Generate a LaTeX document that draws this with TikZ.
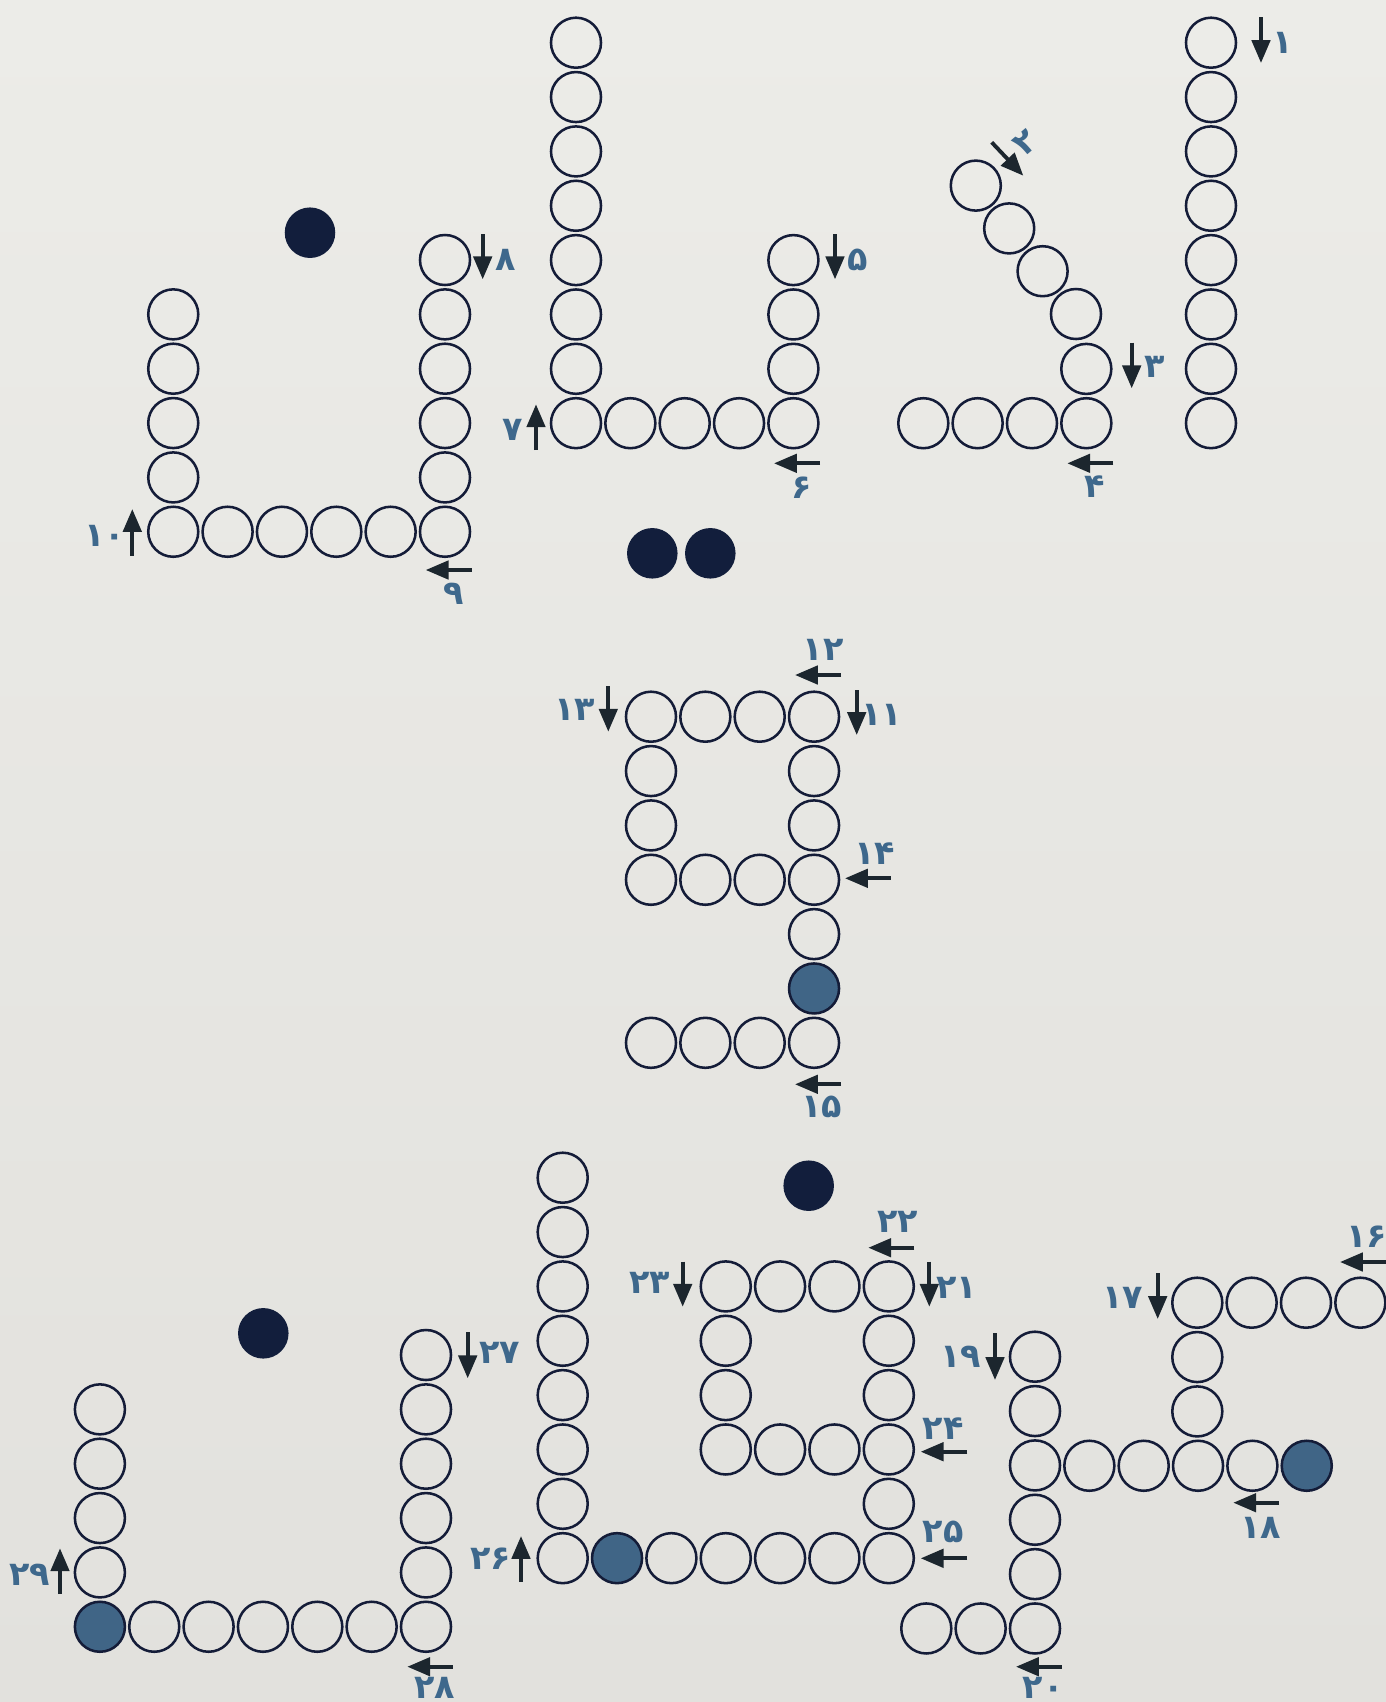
\documentclass[tikz,border=0pt]{standalone}
\usepackage{fontspec}
\usetikzlibrary{arrows.meta}
\newfontfamily\numfont[Script=Arabic]{DejaVu Sans}
\definecolor{ringc}{RGB}{20,28,56}
\definecolor{dotc}{RGB}{18,30,60}
\definecolor{bluec}{RGB}{64,101,134}
\definecolor{numc}{RGB}{62,104,140}
\definecolor{arrowc}{RGB}{28,38,46}
\definecolor{bgtop}{RGB}{236,236,232}
\definecolor{bgbot}{RGB}{226,225,221}

\begin{document}
\begin{tikzpicture}[x=0.01cm,y=-0.01cm,
  ring/.style={circle,draw=ringc,line width=0.72pt,minimum size=0.5cm,inner sep=0pt},
  bluering/.style={ring,fill=bluec},
  bigdot/.style={circle,fill=dotc,minimum size=0.505cm,inner sep=0pt},
  hint/.style={draw=arrowc,line width=1.1pt,-{Triangle[length=6.5pt,width=5.2pt]}},
  num/.style={text=numc,inner sep=0pt,font=\numfont\bfseries\fontsize{9.5}{11}\selectfont}]

% Background
\useasboundingbox (0,0) rectangle (1386,1702);
\shade[top color=bgtop,bottom color=bgbot] (0,0) rectangle (1386,1702);

% Alif
\foreach \i in {0,...,7}
  \node[ring] (alif\i) at (1211,{42.7+54.35*\i}) {};

% Diagonal letter
\foreach \i in {0,...,3}
  \node[ring] (kb\i) at ({923.3+54.35*\i},423.2) {};
\node[ring] (kc) at (1086.3,368.9) {};
\foreach \i in {0,...,3}
  \node[ring] (kd\i) at ({1076-33.4*\i},{314-42.8*\i}) {};

% Taa
\foreach \i in {0,...,7}
  \node[ring] (taa\i) at (576,{42.7+54.35*\i}) {};
\foreach \i in {1,...,4}
  \node[ring] (tb\i) at ({576+54.35*\i},423.2) {};
\foreach \i in {4,...,6}
  \node[ring] (tr\i) at (793.4,{42.7+54.35*\i}) {};

% Noon (top)
\foreach \i in {0,...,4}
  \node[ring] (nr\i) at (445,{260+54.35*\i}) {};
\foreach \i in {0,...,5}
  \node[ring] (nb\i) at ({173.25+54.35*\i},531.75) {};
\foreach \i in {0,...,3}
  \node[ring] (nl\i) at (173.25,{314.35+54.35*\i}) {};
\node[bigdot] (ndot) at (310,232.7) {};

% Two dots
\node[bigdot] (qdot1) at (652.3,553.3) {};
\node[bigdot] (qdot2) at (710.3,553.3) {};

% Qaf
\foreach \i in {0,...,3}
  \node[ring] (qt\i) at ({651+54.35*\i},716.7) {};
\foreach \i in {1,2}
  \node[ring] (ql\i) at (651,{716.7+54.35*\i}) {};
\foreach \i in {0,...,3}
  \node[ring] (qm\i) at ({651+54.35*\i},879.75) {};
\foreach \i in {1,2,4,6}
  \node[ring] (qr\i) at (814.05,{716.7+54.35*\i}) {};
\node[bluering] (qr5) at (814.05,988.45) {};
\foreach \i in {0,...,2}
  \node[ring] (qb\i) at ({651+54.35*\i},1042.8) {};

% Kaf
\foreach \i in {0,...,3}
  \node[ring] (kt\i) at ({1197.3+54.35*\i},1302.7) {};
\foreach \i in {1,2}
  \node[ring] (kv\i) at (1197.3,{1302.7+54.35*\i}) {};
\foreach \i in {1,...,4}
  \node[ring] (km\i) at ({1035+54.35*\i},1465.75) {};
\node[bluering] (km5) at (1306.75,1465.75) {};
\foreach \i in {0,...,5}
  \node[ring] (kl\i) at (1035,{1356.7+54.35*\i}) {};
\foreach \i in {0,1}
  \node[ring] (kf\i) at ({926.3+54.35*\i},1628.45) {};

% Zaa
\foreach \i in {0,...,7}
  \node[ring] (za\i) at (562.7,{1177.7+54.35*\i}) {};
\node[bluering] (zb1) at (617.05,1558.15) {};
\foreach \i in {2,...,6}
  \node[ring] (zb\i) at ({562.7+54.35*\i},1558.15) {};
\foreach \i in {1,...,5}
  \node[ring] (zr\i) at (888.8,{1558.15-54.35*\i}) {};
\foreach \i in {1,...,3}
  \node[ring] (zt\i) at ({888.8-54.35*\i},1286.4) {};
\foreach \i in {1,2}
  \node[ring] (zl\i) at (725.75,{1286.4+54.35*\i}) {};
\foreach \i in {0,...,2}
  \node[ring] (zm\i) at ({725.75+54.35*\i},1449.45) {};
\node[bigdot] (zdot) at (808.7,1185.7) {};

% Noon (bottom)
\foreach \i in {0,...,4}
  \node[ring] (br\i) at (426,{1355+54.35*\i}) {};
\foreach \i in {0,...,5}
  \node[ring] (bb\i) at ({426-54.35*\i},1626.75) {};
\node[bluering] (bb6) at (99.9,1626.75) {};
\foreach \i in {1,...,4}
  \node[ring] (bl\i) at (99.9,{1626.75-54.35*\i}) {};
\node[bigdot] (bdot) at (263.3,1333.3) {};

% Arrows and step numbers
\draw[hint] (1261,17) -- (1261,63);
\node[num] (n1) at (1283,43) {۱};
\draw[hint] (991.7,142.3) -- (1023.3,175.7);
\node[num,rotate=40] (n2) at (1025,143) {۲};
\draw[hint] (1131.7,342.7) -- (1131.7,388.3);
\node[num] (n3) at (1155,366.7) {۳};
\draw[hint] (1113.3,463.3) -- (1067.3,463.3);
\node[num] (n4) at (1095,486.7) {۴};
\draw[hint] (835,234.3) -- (835,279.3);
\node[num] (n5) at (858,260) {۵};
\draw[hint] (820,463.3) -- (774,463.3);
\node[num] (n6) at (801.7,487.3) {۶};
\draw[hint] (536,450) -- (536,404.3);
\node[num] (n7) at (513,430) {۷};
\draw[hint] (482.7,234.3) -- (482.7,279.3);
\node[num] (n8) at (506,260) {۸};
\draw[hint] (471.7,570) -- (425.7,570);
\node[num] (n9) at (453.3,593.3) {۹};
\draw[hint] (132.3,555.7) -- (132.3,509);
\node[num] (n10) at (105,535.7) {۱۰};

\draw[hint] (856.7,690) -- (856.7,735);
\node[num] (n11) at (882,715) {۱۱};
\draw[hint] (841,675) -- (795,675);
\node[num] (n12) at (823.3,650) {۱۲};
\draw[hint] (608.3,686) -- (608.3,731.7);
\node[num] (n13) at (575,710) {۱۳};
\draw[hint] (890.7,878.3) -- (845,878.3);
\node[num] (n14) at (875,853.3) {۱۴};
\draw[hint] (841,1084.3) -- (795,1084.3);
\node[num] (n15) at (821.7,1107.3) {۱۵};

\draw[hint] (1386,1262) -- (1340,1262);
\node[num] (n16) at (1367,1236.7) {۱۶};
\draw[hint] (1157.7,1273.3) -- (1157.7,1319);
\node[num] (n17) at (1123,1298.3) {۱۷};
\draw[hint] (1279,1502.7) -- (1233.3,1502.7);
\node[num] (n18) at (1261,1528.3) {۱۸};
\draw[hint] (995,1333.3) -- (995,1380);
\node[num] (n19) at (961,1356.7) {۱۹};
\draw[hint] (1061.7,1666.7) -- (1016,1666.7);
\node[num] (n20) at (1043.3,1688) {۲۰};

\draw[hint] (929.3,1261.7) -- (929.3,1306.7);
\node[num] (n21) at (957,1288.3) {۲۱};
\draw[hint] (914.3,1247.7) -- (868.3,1247.7);
\node[num] (n22) at (897.7,1221.7) {۲۲};
\draw[hint] (682.7,1261.7) -- (682.7,1306.7);
\node[num] (n23) at (650,1283.3) {۲۳};
\draw[hint] (967.3,1451.7) -- (920.7,1451.7);
\node[num] (n24) at (943.3,1428.3) {۲۴};
\draw[hint] (967.3,1558.3) -- (920.7,1558.3);
\node[num] (n25) at (943.3,1531.7) {۲۵};
\draw[hint] (521,1581.7) -- (521,1536);
\node[num] (n26) at (491,1558.3) {۲۶};

\draw[hint] (467.7,1332.3) -- (467.7,1378.3);
\node[num] (n27) at (500,1353.3) {۲۷};
\draw[hint] (452.7,1666.7) -- (407.3,1666.7);
\node[num] (n28) at (435,1688) {۲۸};
\draw[hint] (60,1594) -- (60,1548.3);
\node[num] (n29) at (30,1575) {۲۹};

\end{tikzpicture}
\end{document}
